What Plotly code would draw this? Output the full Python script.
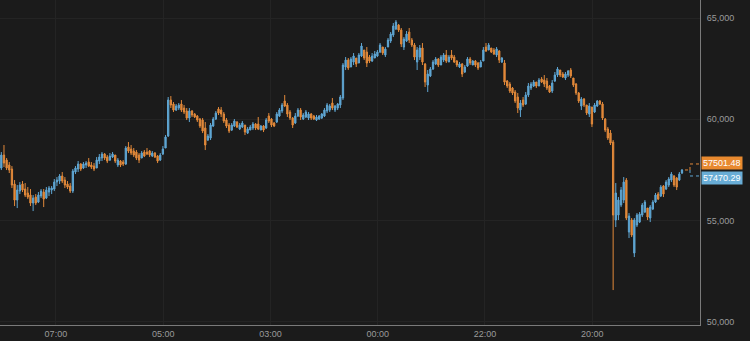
import plotly.graph_objects as go

# ---- data ----
open_ = [57597,58238,57991,57745,57547,56807,56017,56461,56807,56560,
         56363,56264,55869,56165,55918,56214,56412,56116,56412,56511,
         56560,56905,56955,57202,57004,56807,56708,56461,57399,57547,
         57794,57597,57745,57893,57745,57695,57597,57942,58090,58288,
         58139,57991,58139,58238,57745,57942,57893,57794,58633,58534,
         58436,58386,58238,58090,58386,58386,58436,58189,58337,58189,
         57991,58288,58584,59176,60953,60756,60459,60558,60756,60558,
         60410,60065,60410,60262,60163,60015,59966,59571,58979,59077,
         59670,60015,60509,60459,60262,59966,59719,59472,59670,59867,
         59522,59620,59719,59324,59472,59571,59768,59768,59472,59670,
         59571,60163,60015,59818,59867,60163,60410,60904,60706,60361,
         60065,59818,60163,60459,60015,60114,60065,60262,60163,59966,
         60015,60065,60163,60410,60459,60805,60459,60558,60706,61052,
         62582,62927,62582,62829,63026,62779,63125,63421,63322,63075,
         62878,63026,63125,63322,63569,63174,63569,63865,64161,64458,
         64655,64408,63569,63865,64309,63915,63668,62829,63075,63520,
         62730,61693,62138,62483,62730,62977,62681,62927,63174,62829,
         63174,63075,62878,62582,62730,62335,62631,62977,62681,62878,
         62779,62582,62878,63569,63421,63520,63421,63174,63372,62829,
         62779,61891,61743,61545,61348,61101,60459,60953,60756,61200,
         61545,61644,61841,61644,61990,61940,61891,61644,61397,61891,
         62187,62434,62236,62039,62187,62434,62039,61743,61299,60657,
         61002,60706,60262,60607,60361,60657,60904,60756,60015,59522,
         59324,58880,55030,55277,55770,56017,57004,54437,55030,53401,
         54783,54931,55277,55425,55622,55129,55573,55918,56313,56214,
         56708,56560,56757,57004,57202,57103,57004,57350]
high = [58386,58732,58090,57893,57695,57004,56757,56905,56955,56856,
        56659,56560,56264,56313,56412,56560,56560,56659,56708,56708,
        57054,57152,57300,57399,57152,56955,56856,57547,57695,57942,
        57843,57893,57942,58090,57893,57843,58139,58288,58386,58337,
        58238,58337,58386,58238,58090,57991,57991,58682,58880,58732,
        58584,58485,58337,58436,58485,58584,58485,58436,58386,58238,
        58337,58682,59225,61101,61150,60854,60756,60805,60953,60706,
        60558,60558,60459,60311,60213,60065,60065,59867,59275,59818,
        60114,60410,60607,60607,60361,60065,59818,59818,60015,59916,
        59818,59916,59719,59620,59719,59867,59818,60114,59719,59719,
        60065,60311,60065,59867,60361,60558,60805,61200,60805,60459,
        60114,60311,60558,60558,60311,60459,60361,60311,60213,60213,
        60213,60311,60558,60805,60756,61052,60706,60805,61200,62779,
        63075,63026,63075,63273,63026,63273,63767,63421,63569,63174,
        63273,63372,63421,63767,63569,63569,64013,64309,64754,64902,
        64704,64507,64063,64359,64507,64013,63767,63569,63668,63767,
        62779,62434,62582,62927,63075,63026,63174,63273,63421,63174,
        63421,63174,62927,62829,62779,62681,63075,63075,62927,62927,
        62829,62927,63569,63767,63767,63520,63520,63569,63421,63075,
        62927,61940,61841,61595,61447,61299,60953,61101,61348,61792,
        61841,61940,61841,62039,62088,62187,62039,61693,61940,62335,
        62582,62434,62335,62335,62434,62533,62039,61792,61348,61101,
        61052,60706,60805,60607,60805,60953,60953,60854,60065,59620,
        59472,58979,56856,56165,56659,57152,57103,55375,55129,55129,
        55375,55425,55869,56017,55622,55770,56017,56363,56412,56757,
        56757,57004,57152,57399,57251,57152,57399,57547]
low = [57498,57646,57498,57350,56609,55721,55622,56313,56412,56165,
       56066,55721,55474,55770,55869,56116,55671,56066,56214,56313,
       56461,56708,56807,56856,56609,56560,56363,56363,57300,57399,
       57448,57547,57597,57646,57547,57448,57597,57794,57942,57991,
       57843,57942,58090,57843,57646,57646,57695,57745,58337,58238,
       58139,57991,57843,58090,58139,58238,58139,58139,58090,57843,
       57942,58238,58584,59127,60558,60361,60410,60459,60361,60262,
       59966,59867,60114,60065,59867,59571,59324,58485,58929,58979,
       59620,59966,60213,60114,59818,59571,59324,59423,59620,59571,
       59472,59571,59225,59275,59472,59472,59472,59472,59472,59373,
       59522,59818,59620,59620,59818,60114,60311,60607,60114,59966,
       59571,59768,60114,59966,59966,60065,59966,59966,59966,59916,
       59966,60015,60114,60311,60361,60459,60361,60459,60558,60953,
       62434,62434,62582,62681,62582,62779,63075,62927,62582,62779,
       62829,63026,63075,63273,63174,63075,63569,63767,64063,64408,
       64309,63569,63421,63816,63767,63569,62927,62434,62927,62681,
       61595,61348,62088,62434,62681,62582,62681,62829,62779,62829,
       62927,62779,62582,62533,62088,62286,62582,62681,62681,62582,
       62434,62582,62878,63322,63421,63273,63174,63075,62779,62779,
       61693,61545,61299,61200,60805,60311,60114,60607,60706,61101,
       61447,61595,61545,61644,61792,61595,61447,61299,61299,61841,
       62088,62088,62039,61940,62088,62039,61595,61200,60805,60459,
       60607,60213,60114,59620,60311,60607,60706,59966,59373,58979,
       58732,51575,54684,55030,55671,55869,55030,54141,54191,53203,
       54684,54882,55178,55375,55030,54931,55523,55869,56017,56165,
       56165,56511,56659,56905,56659,56511,56955,57300]
close = [58238,57843,57597,57498,56757,56017,56511,56757,56511,56264,
         56165,55869,56116,55869,56264,56461,56066,56511,56609,56609,
         56905,57004,57202,56955,56757,56659,56461,57448,57597,57794,
         57547,57794,57843,57695,57646,57547,57991,58139,58288,58090,
         57942,58189,58288,57942,57991,57745,57794,58584,58436,58337,
         58238,58090,57991,58337,58189,58288,58238,58337,58139,57942,
         58238,58534,59127,60953,60706,60459,60657,60706,60459,60361,
         60065,60410,60213,60114,59966,59670,59423,58732,59176,59719,
         60015,60311,60311,60262,59916,59670,59423,59719,59916,59620,
         59719,59818,59373,59522,59620,59768,59571,59522,59670,59472,
         59966,59916,59719,59670,60262,60459,60706,60657,60262,60065,
         59719,60163,60459,60114,60213,60361,60262,60065,60015,60114,
         60163,60262,60459,60706,60657,60558,60657,60756,61101,62681,
         62927,62533,62977,63125,62730,63174,63618,63026,62779,62878,
         63125,63224,63322,63668,63273,63470,63915,64211,64606,64803,
         64408,63717,63964,64211,63915,63668,63075,63421,63520,62829,
         61841,62236,62483,62829,62977,62681,63075,63174,62878,63075,
         63026,62829,62681,62730,62236,62582,62977,62779,62878,62681,
         62533,62829,63421,63372,63668,63322,63224,63470,62927,63026,
         61841,61644,61397,61299,60904,60558,60805,60706,61200,61644,
         61743,61841,61644,61940,61841,61743,61545,61348,61792,62187,
         62483,62187,62088,62236,62384,62138,61693,61299,60904,61002,
         60706,60311,60657,59768,60706,60904,60756,60065,59472,59077,
         58831,55277,56363,56017,56511,56905,55129,55227,54289,55030,
         55277,55326,55770,55918,55178,55671,55918,56264,56066,56659,
         56313,56905,57054,57300,56757,56659,57300,57501.48]

tick_labels = ["07:00", "05:00", "03:00", "00:00", "22:00", "20:00"]
tick_index = [20.6, 61.1, 101.6, 142.1, 182.6, 223.1]

last_prices = [57501.48, 57470.29]   # orange, blue labels

# ---- styling ----
BG = "#1b1b1b"
BLUE = "#5fa6d3"
ORANGE = "#e2893a"
LABEL_ORANGE = "#e8892f"
LABEL_BLUE = "#69add6"
GRID = "#242424"
AXIS = "#7a7a7a"
TXT = "#9a9a9a"
FONT = "Liberation Sans, Arial, sans-serif"

x = list(range(len(close)))
n = len(close)

fig = go.Figure(go.Candlestick(
    x=x, open=open_, high=high, low=low, close=close,
    increasing=dict(line=dict(color=BLUE, width=1), fillcolor=BLUE),
    decreasing=dict(line=dict(color=ORANGE, width=1), fillcolor=ORANGE),
    whiskerwidth=0, showlegend=False, hoverinfo="skip",
))

fig.update_layout(
    width=750, height=341,
    margin=dict(l=0, r=50, t=0, b=16),
    paper_bgcolor=BG, plot_bgcolor=BG,
    font=dict(family=FONT, size=9, color=TXT),
    showlegend=False,
    xaxis=dict(
        range=[-0.5, n - 1 + 6.8],
        rangeslider=dict(visible=False),
        tickvals=tick_index, ticktext=tick_labels,
        showgrid=True, gridcolor=GRID, gridwidth=1,
        showline=True, linecolor=AXIS, linewidth=1,
        ticks="", zeroline=False,
        tickfont=dict(size=9, color=TXT),
    ),
    yaxis=dict(
        side="right",
        range=[49850, 65890],
        tickvals=[50000, 55000, 60000, 65000],
        tickformat=",",
        showgrid=True, gridcolor=GRID, gridwidth=1,
        showline=True, linecolor=AXIS, linewidth=1,
        ticks="", zeroline=False, ticklabelstandoff=4,
        tickfont=dict(size=9, color=TXT),
    ),
)

# price labels on the right axis
for val, col, shift in [(last_prices[0], LABEL_ORANGE, 7), (last_prices[1], LABEL_BLUE, -7)]:
    fig.add_annotation(
        xref="paper", yref="y", x=1, y=val, xanchor="left", yanchor="middle",
        yshift=shift, xshift=1, text=f"{val:.2f}", showarrow=False,
        bgcolor=col, borderpad=1, font=dict(color="white", size=9, family=FONT),
    )

# dashed bracket joining last candle to labels
last_i = n - 1
anchor_y = last_prices[0]
common = dict(xref="x", yref="y", xsizemode="pixel", ysizemode="pixel",
              xanchor=last_i, yanchor=anchor_y)
dash_o = dict(color=ORANGE, width=1, dash="dot")
dash_b = dict(color=BLUE, width=1, dash="dot")
fig.add_shape(type="line", x0=3, x1=8, y0=0, y1=0, line=dash_o, **common)
fig.add_shape(type="line", x0=8, x1=18, y0=6, y1=6, line=dash_o, **common)
fig.add_shape(type="line", x0=8, x1=8, y0=0, y1=6, line=dash_o, **common)
fig.add_shape(type="line", x0=8, x1=18, y0=-6, y1=-6, line=dash_b, **common)
fig.add_shape(type="line", x0=8, x1=8, y0=0, y1=-6, line=dash_b, **common)

fig.write_html("out.html")
